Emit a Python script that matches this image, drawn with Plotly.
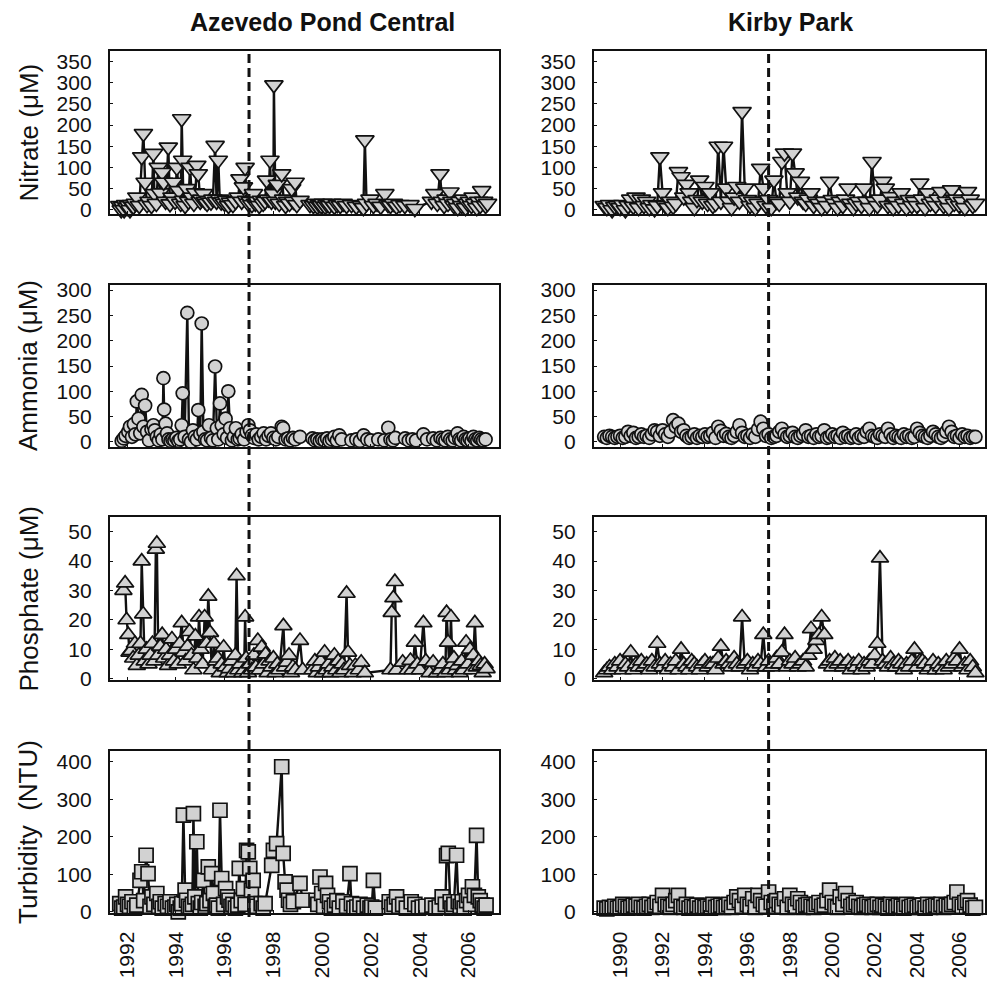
import plotly.graph_objects as go

# ---------------- Azevedo Pond Central ----------------
apc_nitrate_year = [
    1991.70, 1991.76, 1991.82, 1991.88, 1991.94, 1992.00, 1992.06, 1992.12, 1992.18, 1992.26,
    1992.34, 1992.40, 1992.50, 1992.60, 1992.67, 1992.74, 1992.82, 1992.90, 1993.00, 1993.08,
    1993.12, 1993.20, 1993.28, 1993.36, 1993.44, 1993.50, 1993.58, 1993.69, 1993.76, 1993.84,
    1993.90, 1993.97, 1994.04, 1994.12, 1994.20, 1994.24, 1994.28, 1994.31, 1994.38, 1994.45,
    1994.52, 1994.58, 1994.66, 1994.74, 1994.80, 1994.86, 1994.92, 1995.00, 1995.06, 1995.13,
    1995.20, 1995.28, 1995.36, 1995.44, 1995.52, 1995.61, 1995.67, 1995.74, 1995.80, 1995.86,
    1995.94, 1996.00, 1996.08, 1996.16, 1996.24, 1996.34, 1996.45, 1996.56, 1996.63, 1996.70,
    1996.77, 1996.84, 1996.90, 1996.97, 1997.05, 1997.12, 1997.18, 1997.26, 1997.34, 1997.42,
    1997.50, 1997.58, 1997.66, 1997.72, 1997.80, 1997.86, 1997.92, 1998.00, 1998.02, 1998.08,
    1998.16, 1998.24, 1998.34, 1998.42, 1998.50, 1998.58, 1998.66, 1998.75, 1998.82, 1998.89,
    1998.96, 1999.09, 1999.50, 1999.64, 1999.72, 1999.80, 1999.88, 1999.96, 2000.04, 2000.12,
    2000.20, 2000.30, 2000.40, 2000.50, 2000.62, 2000.74, 2000.86, 2001.00, 2001.20, 2001.40,
    2001.60, 2001.69, 2001.75, 2001.82, 2001.96, 2002.10, 2002.25, 2002.40, 2002.57, 2002.70,
    2002.80, 2002.92, 2003.05, 2003.19, 2003.39, 2003.60, 2003.80, 2004.48, 2004.62, 2004.72,
    2004.83, 2004.92, 2005.00, 2005.08, 2005.16, 2005.24, 2005.32, 2005.40, 2005.48, 2005.56,
    2005.64, 2005.72, 2005.80, 2005.88, 2005.96, 2006.04, 2006.12, 2006.19, 2006.26, 2006.34,
    2006.42, 2006.48, 2006.54, 2006.62, 2006.70, 2006.78,
]
apc_nitrate = [
    10, 0, 8, 0, 12, 5, 10, 0, 12, 8,
    15, 30, 10, 125, 180, 65, 12, 20, 10, 133,
    38, 15, 100, 40, 88, 65, 20, 148, 14, 30,
    65, 20, 100, 45, 15, 215, 117, 22, 10, 50,
    20, 100, 30, 15, 40, 105, 85, 20, 25, 38,
    20, 15, 22, 18, 25, 152, 20, 117, 25, 18,
    20, 15, 22, 10, 18, 12, 20, 30, 73, 20,
    54, 100, 22, 15, 20, 12, 38, 15, 20, 10,
    22, 15, 20, 70, 25, 117, 20, 38, 295, 20,
    60, 15, 85, 25, 10, 20, 15, 50, 20, 65,
    12, 22, 12, 10, 15, 8, 12, 10, 15, 8,
    12, 10, 15, 8, 12, 10, 15, 10, 12, 8,
    10, 5, 165, 15, 25, 10, 15, 8, 38, 12,
    10, 15, 8, 12, 10, 12, 3, 20, 38, 15,
    85, 20, 10, 25, 15, 42, 20, 10, 15, 5,
    20, 10, 25, 5, 15, 20, 10, 30, 15, 5,
    20, 10, 45, 20, 10, 15,
]

apc_ammonia_year = [
    1991.78, 1991.86, 1991.94, 1992.05, 1992.12, 1992.20, 1992.28, 1992.34, 1992.40, 1992.47,
    1992.54, 1992.60, 1992.67, 1992.74, 1992.82, 1992.90, 1993.00, 1993.08, 1993.14, 1993.22,
    1993.30, 1993.38, 1993.45, 1993.49, 1993.52, 1993.58, 1993.64, 1993.70, 1993.78, 1993.86,
    1993.94, 1994.02, 1994.10, 1994.18, 1994.24, 1994.28, 1994.36, 1994.47, 1994.54, 1994.62,
    1994.70, 1994.78, 1994.86, 1994.92, 1995.00, 1995.06, 1995.13, 1995.20, 1995.28, 1995.36,
    1995.44, 1995.52, 1995.61, 1995.68, 1995.74, 1995.81, 1995.88, 1995.96, 1996.04, 1996.10,
    1996.15, 1996.22, 1996.30, 1996.38, 1996.46, 1996.54, 1996.62, 1996.70, 1996.80, 1996.90,
    1996.97, 1997.04, 1997.12, 1997.20, 1997.30, 1997.40, 1997.50, 1997.60, 1997.70, 1997.80,
    1997.90, 1998.00, 1998.10, 1998.20, 1998.34, 1998.40, 1998.50, 1998.60, 1998.70, 1998.80,
    1998.90, 1999.09, 1999.60, 1999.70, 1999.80, 1999.90, 2000.00, 2000.10, 2000.20, 2000.30,
    2000.40, 2000.50, 2000.60, 2000.70, 2000.80, 2001.20, 2001.40, 2001.55, 2001.70, 2001.85,
    2002.00, 2002.30, 2002.55, 2002.71, 2002.80, 2002.90, 2003.00, 2003.40, 2003.55, 2003.70,
    2003.85, 2004.15, 2004.30, 2004.55, 2004.70, 2004.85, 2004.95, 2005.05, 2005.15, 2005.25,
    2005.35, 2005.45, 2005.55, 2005.62, 2005.70, 2005.80, 2005.88, 2005.96, 2006.04, 2006.12,
    2006.20, 2006.28, 2006.36, 2006.44, 2006.52, 2006.60, 2006.70,
]
apc_ammonia = [
    2, 7, 12, 20, 30, 10, 35, 15, 80, 46,
    17, 93, 30, 72, 20, 3, 25, 33, 23, 10,
    3, 15, 5, 126, 64, 36, 17, 5, 2, 5,
    3, 8, 2, 5, 33, 96, 10, 255, 5, 0,
    23, 10, 5, 63, 15, 234, 20, 5, 3, 33,
    8, 3, 149, 27, 5, 76, 33, 15, 46, 8,
    100, 27, 3, 10, 27, 5, 7, 15, 5, 20,
    33, 23, 13, 8, 15, 5, 10, 17, 5, 12,
    17, 8, 5, 10, 30, 27, 5, 7, 3, 8,
    5, 10, 7, 3, 5, 2, 5, 3, 7, 2,
    5, 10, 3, 13, 5, 3, 5, 2, 13, 5,
    3, 5, 3, 28, 5, 3, 8, 7, 3, 5,
    3, 15, 5, 7, 3, 8, 5, 3, 10, 5,
    3, 8, 17, 5, 3, 10, 5, 3, 7, 2,
    10, 5, 3, 8, 5, 3, 5,
]

apc_phosphate_year = [
    1991.85, 1991.92, 1991.98, 1992.05, 1992.10, 1992.16, 1992.25, 1992.32, 1992.40, 1992.48,
    1992.55, 1992.60, 1992.66, 1992.72, 1992.80, 1992.88, 1992.96, 1993.04, 1993.12, 1993.18,
    1993.22, 1993.28, 1993.36, 1993.44, 1993.52, 1993.60, 1993.68, 1993.76, 1993.84, 1993.92,
    1994.00, 1994.08, 1994.16, 1994.24, 1994.32, 1994.40, 1994.48, 1994.56, 1994.64, 1994.72,
    1994.80, 1994.88, 1994.95, 1995.02, 1995.10, 1995.18, 1995.26, 1995.33, 1995.40, 1995.48,
    1995.56, 1995.64, 1995.72, 1995.80, 1995.88, 1995.96, 1996.04, 1996.12, 1996.20, 1996.28,
    1996.36, 1996.44, 1996.49, 1996.56, 1996.64, 1996.72, 1996.80, 1996.84, 1996.88, 1996.96,
    1997.04, 1997.12, 1997.20, 1997.28, 1997.36, 1997.44, 1997.52, 1997.60, 1997.68, 1997.76,
    1997.84, 1997.92, 1998.00, 1998.08, 1998.16, 1998.24, 1998.41, 1998.48, 1998.56, 1998.64,
    1998.72, 1998.80, 1998.90, 1999.09, 1999.20, 1999.60, 1999.70, 1999.78, 1999.86, 1999.94,
    2000.02, 2000.10, 2000.18, 2000.26, 2000.34, 2000.42, 2000.50, 2000.58, 2000.66, 2000.74,
    2000.82, 2000.90, 2001.00, 2001.06, 2001.14, 2001.25, 2001.36, 2001.50, 2001.60, 2001.75,
    2002.80, 2002.85, 2002.92, 2002.98, 2003.05, 2003.30, 2003.50, 2003.62, 2003.70, 2003.80,
    2003.90, 2004.00, 2004.15, 2004.25, 2004.40, 2004.55, 2004.70, 2004.85, 2004.95, 2005.05,
    2005.10, 2005.16, 2005.22, 2005.28, 2005.34, 2005.40, 2005.48, 2005.56, 2005.64, 2005.72,
    2005.80, 2005.90, 2005.98, 2006.06, 2006.14, 2006.20, 2006.26, 2006.34, 2006.42, 2006.50,
    2006.58, 2006.66, 2006.74,
]
apc_phosphate = [
    30, 32.5, 20, 15, 9, 9.5, 7, 12, 4.5, 8,
    12, 40, 22, 6, 10, 5, 8, 12, 6, 44,
    46, 8, 11, 15, 7, 10, 4.5, 8, 13.5, 6,
    10, 5, 12, 19, 9, 6, 11, 16, 8, 3,
    14.5, 7, 21, 10, 5, 21, 12, 28, 15.7, 3,
    12, 6, 7, 2, 5, 10.7, 4, 2, 3.4, 6,
    2, 8, 35, 3, 5, 2, 3, 21, 7, 2,
    5, 3, 8, 4, 13, 3, 10.7, 5, 8.4, 2,
    6, 4, 7, 2, 5, 3, 18, 4, 5.6, 8,
    2, 4, 3, 13, 3, 3, 6, 2, 4, 6,
    2, 9, 3, 5, 2, 4, 8, 3, 6, 2,
    5, 3, 29, 9, 4.5, 2, 4.5, 3, 5.6, 2,
    3, 22.5, 27.5, 33, 3, 5.6, 3, 6.2, 3, 12.4,
    5, 3, 19, 6, 2, 5.6, 2, 3, 5, 2,
    22.5, 12.4, 3, 21, 5, 7, 3, 4.5, 2, 6,
    3, 12.4, 5, 10, 3, 8, 19, 4, 6, 4.5,
    2, 5, 3.4,
]

apc_turbidity_year = [
    1991.70, 1991.78, 1991.86, 1991.94, 1992.02, 1992.10, 1992.20, 1992.30, 1992.40, 1992.53,
    1992.60, 1992.68, 1992.78, 1992.86, 1992.94, 1993.02, 1993.10, 1993.22, 1993.30, 1993.36,
    1993.44, 1993.56, 1993.66, 1993.76, 1993.86, 1993.96, 1994.04, 1994.10, 1994.18, 1994.24,
    1994.31, 1994.38, 1994.44, 1994.52, 1994.60, 1994.68, 1994.72, 1994.78, 1994.86, 1994.92,
    1995.00, 1995.06, 1995.13, 1995.20, 1995.27, 1995.33, 1995.40, 1995.47, 1995.54, 1995.61,
    1995.67, 1995.74, 1995.81, 1995.88, 1995.96, 1996.04, 1996.12, 1996.18, 1996.26, 1996.34,
    1996.44, 1996.54, 1996.60, 1996.68, 1996.77, 1996.84, 1996.90, 1996.97, 1997.03, 1997.10,
    1997.17, 1997.24, 1997.32, 1997.50, 1997.58, 1997.66, 1997.93, 1998.00, 1998.13, 1998.34,
    1998.40, 1998.48, 1998.56, 1998.62, 1998.70, 1998.82, 1999.09, 1999.20, 1999.75, 1999.82,
    1999.91, 1999.98, 2000.06, 2000.14, 2000.22, 2000.30, 2000.38, 2000.50, 2000.60, 2000.70,
    2000.85, 2001.00, 2001.14, 2001.20, 2001.30, 2001.42, 2001.55, 2001.70, 2001.85, 2001.96,
    2002.03, 2002.10, 2002.18, 2002.75, 2002.85, 2002.95, 2003.05, 2003.15, 2003.30, 2003.45,
    2003.65, 2003.80, 2003.95, 2004.10, 2004.25, 2004.50, 2004.65, 2004.80, 2004.92, 2005.05,
    2005.10, 2005.17, 2005.25, 2005.32, 2005.40, 2005.51, 2005.58, 2005.66, 2005.74, 2005.82,
    2005.92, 2006.00, 2006.08, 2006.16, 2006.24, 2006.33, 2006.40, 2006.48, 2006.56, 2006.64,
    2006.72,
]
apc_turbidity = [
    22, 10, 13, 40, 20, 15, 27, 10, 18, 84,
    107, 30, 151, 102, 15, 40, 20, 49, 15, 27,
    10, 22, 15, 27, 10, 13, 20, 0, 10, 22,
    258, 58, 31, 15, 10, 20, 262, 40, 187, 22,
    10, 25, 84, 15, 22, 120, 30, 102, 49, 15,
    18, 10, 271, 89, 20, 62, 40, 31, 15, 20,
    10, 18, 116, 30, 62, 20, 164, 160, 116, 58,
    84, 22, 15, 22, 10, 22, 124, 164, 182, 387,
    156, 80, 58, 31, 20, 27, 76, 31, 31, 20,
    93, 49, 15, 76, 44, 27, 10, 18, 30, 10,
    27, 15, 102, 22, 10, 13, 20, 10, 18, 10,
    13, 84, 10, 27, 13, 20, 40, 15, 20, 10,
    27, 20, 10, 13, 15, 18, 10, 13, 40, 20,
    150, 156, 27, 10, 20, 151, 27, 15, 27, 10,
    30, 44, 20, 67, 44, 204, 40, 30, 18, 10,
    18,
]

# ---------------- Kirby Park ----------------
kp_year = [
    1989.250, 1989.375, 1989.500, 1989.625, 1989.750, 1989.875,
    1990.000, 1990.125, 1990.250, 1990.375, 1990.500, 1990.625, 1990.750, 1990.875,
    1991.000, 1991.125, 1991.250, 1991.375, 1991.500, 1991.625, 1991.750, 1991.875,
    1992.000, 1992.125, 1992.250, 1992.375, 1992.500, 1992.625, 1992.750, 1992.875,
    1993.000, 1993.125, 1993.250, 1993.375, 1993.500, 1993.625, 1993.750, 1993.875,
    1994.000, 1994.125, 1994.250, 1994.375, 1994.500, 1994.625, 1994.750, 1994.875,
    1995.000, 1995.125, 1995.250, 1995.375, 1995.500, 1995.625, 1995.750, 1995.875,
    1996.000, 1996.125, 1996.250, 1996.375, 1996.500, 1996.625, 1996.750, 1996.875,
    1997.000, 1997.125, 1997.250, 1997.375, 1997.500, 1997.625, 1997.750, 1997.875,
    1998.000, 1998.125, 1998.250, 1998.375, 1998.500, 1998.625, 1998.750, 1998.875,
    1999.000, 1999.125, 1999.250, 1999.375, 1999.500, 1999.625, 1999.750, 1999.875,
    2000.000, 2000.125, 2000.250, 2000.375, 2000.500, 2000.625, 2000.750, 2000.875,
    2001.000, 2001.125, 2001.250, 2001.375, 2001.500, 2001.625, 2001.750, 2001.875,
    2002.000, 2002.125, 2002.250, 2002.375, 2002.500, 2002.625, 2002.750, 2002.875,
    2003.000, 2003.125, 2003.250, 2003.375, 2003.500, 2003.625, 2003.750, 2003.875,
    2004.000, 2004.125, 2004.250, 2004.375, 2004.500, 2004.625, 2004.750, 2004.875,
    2005.000, 2005.125, 2005.250, 2005.375, 2005.500, 2005.625, 2005.750, 2005.875,
    2006.000, 2006.125, 2006.250, 2006.375, 2006.500, 2006.625, 2006.750,
]
kp_nitrate = [
    10, 5, 12, 0, 8, 10,
    5, 12, 0, 10, 25, 8, 30, 5,
    25, 10, 20, 5, 12, 2, 10, 125,
    40, 10, 5, 20, 8, 15, 90, 78,
    30, 60, 40, 20, 5, 24, 70, 20,
    55, 15, 40, 10, 15, 150, 20, 150,
    51, 20, 5, 30, 55, 20, 232, 51,
    24, 10, 20, 5, 15, 98, 51, 10,
    24, 5, 70, 20, 15, 114, 134, 40,
    20, 134, 87, 30, 67, 20, 15, 25,
    40, 10, 20, 15, 5, 20, 10, 67,
    24, 15, 5, 20, 10, 25, 51, 15,
    5, 15, 20, 10, 51, 20, 5, 114,
    20, 10, 25, 67, 51, 10, 31, 5,
    20, 10, 40, 15, 5, 24, 10, 20,
    10, 63, 25, 5, 40, 15, 20, 10,
    25, 43, 10, 20, 5, 47, 15, 25,
    10, 20, 5, 43, 25, 10, 15,
]
kp_ammonia = [
    10, 8, 12, 10, 8, 10,
    12, 8, 10, 20, 12, 18, 8, 10,
    15, 10, 12, 8, 15, 23, 20, 12,
    23, 15, 10, 20, 43, 30, 36, 20,
    23, 12, 8, 10, 15, 8, 12, 10,
    15, 10, 12, 18, 8, 30, 22, 12,
    16, 10, 8, 12, 20, 33, 18, 10,
    12, 8, 15, 10, 25, 40, 26, 12,
    15, 8, 10, 12, 20, 26, 15, 10,
    12, 18, 10, 8, 12, 15, 23, 10,
    12, 8, 15, 10, 12, 23, 8, 10,
    15, 10, 12, 8, 18, 10, 12, 8,
    10, 15, 8, 12, 10, 20, 26, 12,
    10, 8, 15, 12, 10, 26, 15, 8,
    12, 10, 8, 15, 10, 12, 8, 10,
    26, 18, 12, 10, 8, 12, 20, 15,
    10, 8, 12, 20, 30, 20, 10, 12,
    8, 15, 10, 12, 8, 10, 10,
]
kp_phosphate = [
    2, 3, 4, 3, 5, 4,
    6, 3, 5, 4, 9, 3, 5, 4,
    6, 4, 5, 3, 6, 4, 12, 5,
    4, 6, 3, 5, 4, 6, 3, 10,
    5, 4, 3, 6, 5, 4, 3, 5,
    6, 4, 5, 5, 3, 7, 11, 5,
    6, 5, 4, 7, 5, 4, 21, 5,
    6, 3, 5, 4, 6, 5, 15, 4,
    6, 4, 5, 7, 5, 9, 15, 4,
    6, 5, 7, 4, 5, 6, 4, 8,
    17, 10, 13, 15, 21, 15, 5, 6,
    4, 7, 5, 6, 4, 5, 6, 3,
    5, 4, 6, 3, 5, 4, 6, 5,
    8, 12, 41, 6, 5, 4, 7, 5,
    4, 6, 5, 3, 5, 4, 6, 10,
    4, 6, 6, 5, 3, 4, 6, 3,
    5, 4, 3, 6, 4, 5, 7, 6,
    10, 4, 5, 3, 6, 4, 2,
]
kp_turbidity = [
    10, 8, 12, 10, 15, 10,
    12, 20, 15, 10, 12, 18, 15, 20,
    12, 10, 15, 20, 12, 18, 25, 15,
    44, 20, 15, 12, 20, 30, 44, 15,
    12, 20, 10, 15, 12, 18, 10, 15,
    12, 15, 10, 20, 12, 15, 18, 12,
    15, 20, 12, 25, 40, 30, 15, 44,
    20, 15, 35, 12, 44, 30, 20, 15,
    53, 25, 15, 30, 20, 15, 35, 12,
    44, 20, 15, 35, 25, 12, 18, 20,
    15, 12, 20, 25, 15, 18, 30, 58,
    25, 15, 12, 40, 20, 49, 30, 15,
    20, 25, 15, 12, 18, 20, 15, 12,
    15, 20, 12, 18, 15, 10, 20, 15,
    12, 18, 15, 10, 20, 12, 15, 18,
    12, 15, 18, 10, 20, 12, 15, 18,
    15, 20, 12, 18, 15, 20, 25, 53,
    20, 15, 25, 30, 18, 10, 12,
]

site_titles = ["Azevedo Pond Central", "Kirby Park"]
y_titles = ["Nitrate (\u03bcM)", "Ammonia (\u03bcM)", "Phosphate (\u03bcM)", "Turbidity\u00a0 (NTU)"]
y_ticks = [[0, 50, 100, 150, 200, 250, 300, 350], [0, 50, 100, 150, 200, 250, 300],
           [0, 10, 20, 30, 40, 50], [0, 100, 200, 300, 400]]
x_ticks = [[1992, 1994, 1996, 1998, 2000, 2002, 2004, 2006],
           [1990, 1992, 1994, 1996, 1998, 2000, 2002, 2004, 2006]]
break_year = 1997

# ---------------- layout geometry ----------------
W, H = 987, 982
col_px = [(110, 499), (594, 985)]
row_px = [(51, 214), (285, 447), (517, 680), (751, 913)]
x_ranges = [[1991.3, 2007.25], [1988.77, 2007.2]]
y_ranges = [[-10, 375], [-10, 310], [-0.4, 55], [-3, 429]]
symbols = ["triangle-down", "circle", "triangle-up", "square"]
sizes = [16, 13, 15, 14]

series = [
    [(apc_nitrate_year, apc_nitrate), (kp_year, kp_nitrate)],
    [(apc_ammonia_year, apc_ammonia), (kp_year, kp_ammonia)],
    [(apc_phosphate_year, apc_phosphate), (kp_year, kp_phosphate)],
    [(apc_turbidity_year, apc_turbidity), (kp_year, kp_turbidity)],
]

FONT = "Liberation Sans, Arial, Helvetica, sans-serif"
fig = go.Figure()
layout = dict(
    template="none",
    width=W, height=H, margin=dict(l=0, r=0, t=0, b=0, pad=0), autosize=False,
    paper_bgcolor="white", plot_bgcolor="white", showlegend=False,
    font=dict(family=FONT, color="#111111"),
)
shapes = []
annotations = []

for r in range(4):
    for c in range(2):
        k = r * 2 + c + 1
        xs, ys = series[r][c]
        fig.add_trace(go.Scatter(
            x=xs, y=ys, mode="lines+markers",
            xaxis="x%d" % k, yaxis="y%d" % k,
            line=dict(color="#111111", width=2.4),
            marker=dict(symbol=symbols[r], size=sizes[r], color="#d2d2d2",
                        line=dict(color="#111111", width=1.7)),
            cliponaxis=False, hoverinfo="x+y",
        ))
        xa = dict(
            domain=[col_px[c][0] / W, col_px[c][1] / W], anchor="y%d" % k,
            range=x_ranges[c], showline=True, mirror=True, linecolor="#111111", linewidth=2.2,
            showgrid=False, zeroline=False, ticks="inside", ticklen=3, tickwidth=1,
            tickcolor="#111111", tickvals=x_ticks[c], showticklabels=(r == 3),
            tickangle=-90, tickfont=dict(size=21, family=FONT, color="#111111"),
            ticklabelstandoff=8, automargin=False,
        )
        ya = dict(
            domain=[1 - row_px[r][1] / H, 1 - row_px[r][0] / H], anchor="x%d" % k,
            range=y_ranges[r], showline=True, mirror=True, linecolor="#111111", linewidth=2.2,
            showgrid=False, zeroline=False, ticks="inside", ticklen=3, tickwidth=1,
            tickcolor="#111111", tickvals=y_ticks[r],
            tickfont=dict(size=21, family=FONT, color="#111111"),
            ticklabelstandoff=12, automargin=False,
        )
        layout["xaxis%d" % k if k > 1 else "xaxis"] = xa
        layout["yaxis%d" % k if k > 1 else "yaxis"] = ya

# dashed break line through every panel of each column
for c in range(2):
    shapes.append(dict(
        type="line", xref="x%d" % (c + 1) if c else "x", yref="paper",
        x0=break_year, x1=break_year, y0=1 - 917 / H, y1=1 - 49 / H,
        line=dict(color="#111111", width=3, dash="9px,5px"), layer="above",
    ))

# column titles
for c, t in enumerate(site_titles):
    cx = [322, 790][c]
    annotations.append(dict(
        text="<b>%s</b>" % t, x=cx / W, y=1 - 22 / H, xref="paper", yref="paper",
        showarrow=False, xanchor="center", yanchor="middle",
        font=dict(size=25, family=FONT, color="#111111"),
    ))

# y-axis titles (left column only)
for r, t in enumerate(y_titles):
    cy = (row_px[r][0] + row_px[r][1]) / 2
    annotations.append(dict(
        text=t, x=28 / W, y=1 - cy / H, xref="paper", yref="paper",
        showarrow=False, xanchor="center", yanchor="middle", textangle=-90,
        font=dict(size=26, family=FONT, color="#111111"),
    ))

layout["shapes"] = shapes
layout["annotations"] = annotations
fig.update_layout(**layout)
fig.write_html(
    "out.html",
    config={"displayModeBar": False, "staticPlot": True},
    post_script="document.body.style.margin='0';document.body.style.overflow='hidden';",
)
